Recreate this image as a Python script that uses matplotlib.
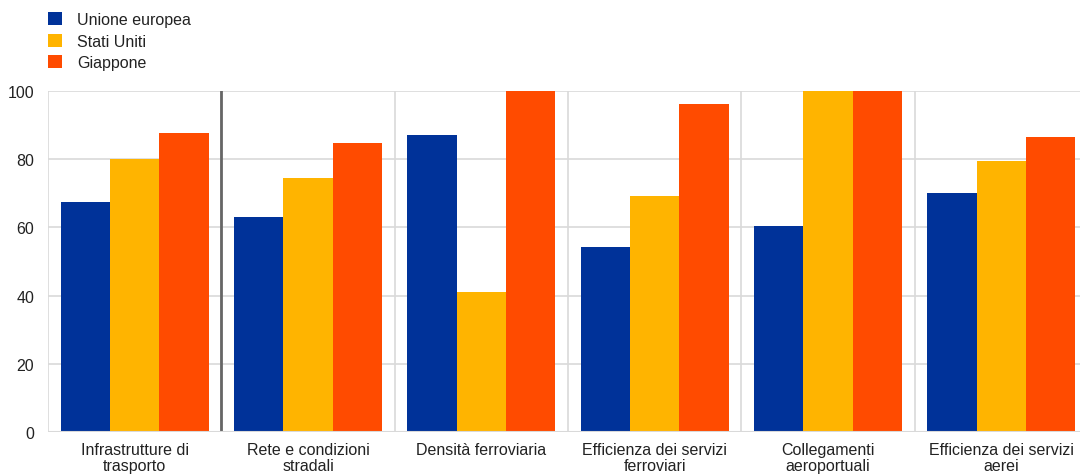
import numpy as np
import matplotlib
import matplotlib.pyplot as plt
from matplotlib.patches import Patch

matplotlib.use('Agg')

plt.rcParams['font.family'] = ['Liberation Sans', 'DejaVu Sans']

# --- DATI ---
categorie = ["Infrastrutture di\ntrasporto", "Rete e condizioni\nstradali", "Densità ferroviaria",
             "Efficienza dei servizi\nferroviari", "Collegamenti\naeroportuali",
             "Efficienza dei servizi\naerei"]
serie = ["Unione europea", "Stati Uniti", "Giappone"]
ue = [67.4, 63.0, 87.1, 54.3, 60.4, 70.1]
usa = [80.0, 74.5, 41.1, 69.2, 100.0, 79.5]
giappone = [87.7, 84.7, 100.0, 96.2, 100.0, 86.5]
colori = ["#003299", "#FFB400", "#FF4B00"]

fig = plt.figure(figsize=(10.8, 4.77), dpi=100)
W, H = 1080, 477
ax = fig.add_axes([48 / W, (H - 433) / H, 1040 / W, 341 / H])

x = np.arange(len(categorie))
bw = 0.285
for i, (vals, col) in enumerate(zip([ue, usa, giappone], colori)):
    ax.bar(x + (i - 1) * bw, vals, width=bw, color=col, edgecolor='none', zorder=3)

ax.set_xlim(-0.5, len(categorie) - 0.5)
ax.set_ylim(0, 100)
ax.set_yticks(range(0, 101, 20))
ax.yaxis.grid(True, color='#d9d9d9', linewidth=1.2, zorder=0)
for b in np.arange(-0.5, len(categorie) + 0.5, 1):
    ax.axvline(b, color='#d9d9d9', linewidth=1.2, zorder=0)
# separatore scuro dopo il primo gruppo
ax.axvline(0.5, color='#666666', linewidth=2.0, zorder=4)

for s in ax.spines.values():
    s.set_visible(False)
ax.axhline(0, color='#d9d9d9', linewidth=1.5, zorder=4)

ax.set_xticks(x)
ax.set_xticklabels(categorie, fontsize=11.5, color='#222222', linespacing=1.1)
ax.tick_params(axis='x', length=0, pad=7)
ax.tick_params(axis='y', length=0, pad=10, labelsize=11.5, labelcolor='#222222')

handles = [Patch(facecolor=c, edgecolor='none') for c in colori]
fig.legend(handles, serie, loc='upper left', bbox_to_anchor=(34 / W, 1 + 1 / H),
           frameon=False, fontsize=11.5, handlelength=0.85, handleheight=0.85,
           handletextpad=0.95, labelspacing=0.4, labelcolor='#222222')

fig.savefig("out.png", dpi=100)
